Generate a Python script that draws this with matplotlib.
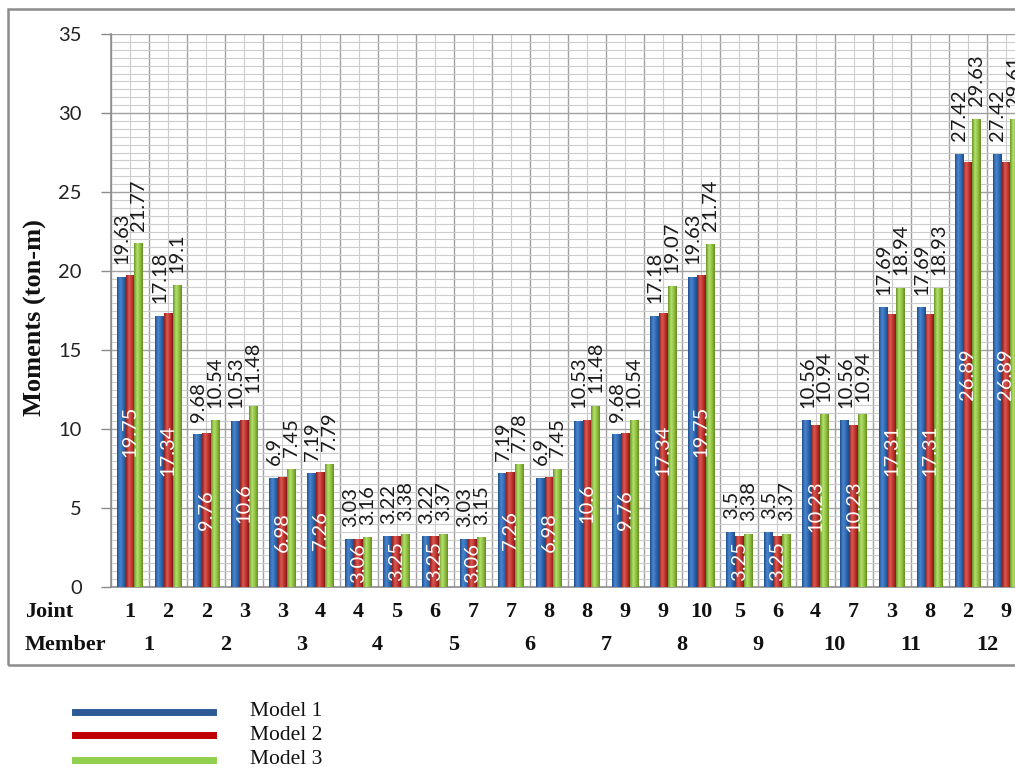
import numpy as np
import matplotlib
matplotlib.use("Agg")
import matplotlib.pyplot as plt
from matplotlib.colors import LinearSegmentedColormap
from matplotlib.patches import Rectangle
from matplotlib.lines import Line2D
import matplotlib.transforms as mtransforms

# Joint / member combinations along the x axis
joints = [1, 2, 2, 3, 3, 4, 4, 5, 6, 7, 7, 8, 8, 9, 9, 10, 5, 6, 4, 7, 3, 8, 2, 9]
members = [1, 2, 3, 4, 5, 6, 7, 8, 9, 10, 11, 12]

# Moments (ton-m) for each model
model1 = [19.63, 17.18, 9.68, 10.53, 6.9, 7.19, 3.03, 3.22, 3.22, 3.03, 7.19, 6.9,
          10.53, 9.68, 17.18, 19.63, 3.5, 3.5, 10.56, 10.56, 17.69, 17.69, 27.42, 27.42]
model2 = [19.75, 17.34, 9.76, 10.6, 6.98, 7.26, 3.06, 3.25, 3.25, 3.06, 7.26, 6.98,
          10.6, 9.76, 17.34, 19.75, 3.25, 3.25, 10.23, 10.23, 17.31, 17.31, 26.89, 26.89]
model3 = [21.77, 19.1, 10.54, 11.48, 7.45, 7.79, 3.16, 3.38, 3.37, 3.15, 7.78, 7.45,
          11.48, 10.54, 19.07, 21.74, 3.38, 3.37, 10.94, 10.94, 18.94, 18.93, 29.63, 29.61]
series_names = ["Model 1", "Model 2", "Model 3"]

W, H = 1015, 774
fig = plt.figure(figsize=(W / 100, H / 100), dpi=100)
fig.patch.set_facecolor("white")

# plot area (right edge runs past the figure border)
left_px, right_px, top_px, bot_px = 111, 1025, 34, 587
ax = fig.add_axes([left_px / W, 1 - bot_px / H, (right_px - left_px) / W, (bot_px - top_px) / H])

n = len(joints)
x = np.arange(n)
bw = 0.23

# cylinder-like shading for the bars
shades = {
    "Model 1": ["#1f4f8f", "#4a86cf", "#2f69b3", "#1d4a86"],
    "Model 2": ["#8c1d1b", "#dc5a54", "#bd302c", "#851a18"],
    "Model 3": ["#6a9526", "#b4e06c", "#8dbd3c", "#638c22"],
}
cmaps = {k: LinearSegmentedColormap.from_list(k, [(0, v[0]), (0.35, v[1]), (0.7, v[2]), (1, v[3])])
         for k, v in shades.items()}
grad = np.linspace(0, 1, 64).reshape(1, -1)

series = [model1, model2, model3]
offsets = [-bw, 0, bw]
for name, vals, off in zip(series_names, series, offsets):
    bars = ax.bar(x + off, vals, width=bw, color=shades[name][2], edgecolor="none", zorder=3)
    for b in bars:
        bx, by = b.get_x(), b.get_y()
        im = ax.imshow(grad, cmap=cmaps[name], aspect="auto", zorder=3.5,
                       extent=[bx, bx + b.get_width(), by, by + b.get_height()],
                       interpolation="bilinear")
        im.set_clip_path(b)

ax.set_xlim(-0.5, n - 0.5)
ax.set_ylim(0, 35)

# grid
ax.set_yticks(np.arange(0, 36, 5))
ax.set_yticks(np.arange(0, 35.01, 0.5), minor=True)
ax.set_xticks(np.arange(-0.5, n, 1.0))
ax.set_xticks(np.arange(0, n, 1.0), minor=True)
ax.grid(True, which="major", axis="both", color="#a0a0a0", linewidth=1.0, zorder=0)
ax.grid(True, which="minor", axis="both", color="#cccccc", linewidth=0.8, zorder=0)
ax.set_axisbelow(True)
ax.tick_params(axis="x", which="both", length=0, labelbottom=False)
ax.tick_params(axis="y", which="major", length=7, color="#8c8c8c", width=1, pad=14,
               labelsize=14.5, labelcolor="#222222")
ax.tick_params(axis="y", which="minor", length=0)
for lab in ax.get_yticklabels():
    lab.set_fontfamily("Lato")
for s in ["top", "right"]:
    ax.spines[s].set_visible(False)
for s in ["left", "bottom"]:
    ax.spines[s].set_color("#8c8c8c")
    ax.spines[s].set_linewidth(1.2)

# value labels
lab_font = dict(family="Lato", fontsize=14.5, rotation=90)
for i in range(n):
    ax.annotate(f"{model1[i]:g}", (x[i] - bw + 0.02, model1[i]), xytext=(0, 9),
                textcoords="offset points", ha="center", va="bottom", color="#1a1a1a",
                zorder=5, **lab_font)
    ax.annotate(f"{model3[i]:g}", (x[i] + bw, model3[i]), xytext=(0, 9),
                textcoords="offset points", ha="center", va="bottom", color="#1a1a1a",
                zorder=5, **lab_font)
    ax.text(x[i], model2[i] / 2, f"{model2[i]:g}", ha="center", va="center",
            color="white", zorder=6, **lab_font)

# joint / member rows beneath the axis
trans = mtransforms.blended_transform_factory(ax.transData, fig.transFigure)
row_font = dict(family="Liberation Serif", fontweight="bold", fontsize=16, color="#111111")
fig.text(25 / W, 1 - 612 / H, "Joint", ha="left", va="center", **row_font)
fig.text(25 / W, 1 - 645 / H, "Member", ha="left", va="center", **row_font)
for i, j in enumerate(joints):
    ax.text(x[i], 1 - 612 / H, str(j), transform=trans, ha="center", va="center",
            clip_on=False, **row_font)
for k, m in enumerate(members):
    ax.text(2 * k + 0.5, 1 - 645 / H, str(m), transform=trans, ha="center", va="center",
            clip_on=False, **row_font)

fig.text(35 / W, 1 - 318 / H, "Moments (ton-m)", rotation=90, ha="center", va="center",
         family="Liberation Serif", fontweight="bold", fontsize=19, color="#111111")

# outer chart frame
fig.patches.append(Rectangle((8 / W, 1 - 665 / H), 1.05, (665 - 9) / H, transform=fig.transFigure,
                             fill=False, edgecolor="#8c8c8c", linewidth=1.8))

# legend below the chart
leg_colors = ["#2e5b96", "#c00000", "#8fd04c"]
leg_y = [712, 735, 760]
for name, c, yy in zip(series_names, leg_colors, leg_y):
    fig.add_artist(Line2D([75 / W, 213 / W], [1 - yy / H, 1 - yy / H], transform=fig.transFigure,
                          color=c, linewidth=5))
    fig.text(250 / W, 1 - yy / H, name, ha="left", va="center",
             family="Liberation Serif", fontsize=15.5, color="#111111")

fig.savefig("out.png", dpi=100, facecolor="white")
